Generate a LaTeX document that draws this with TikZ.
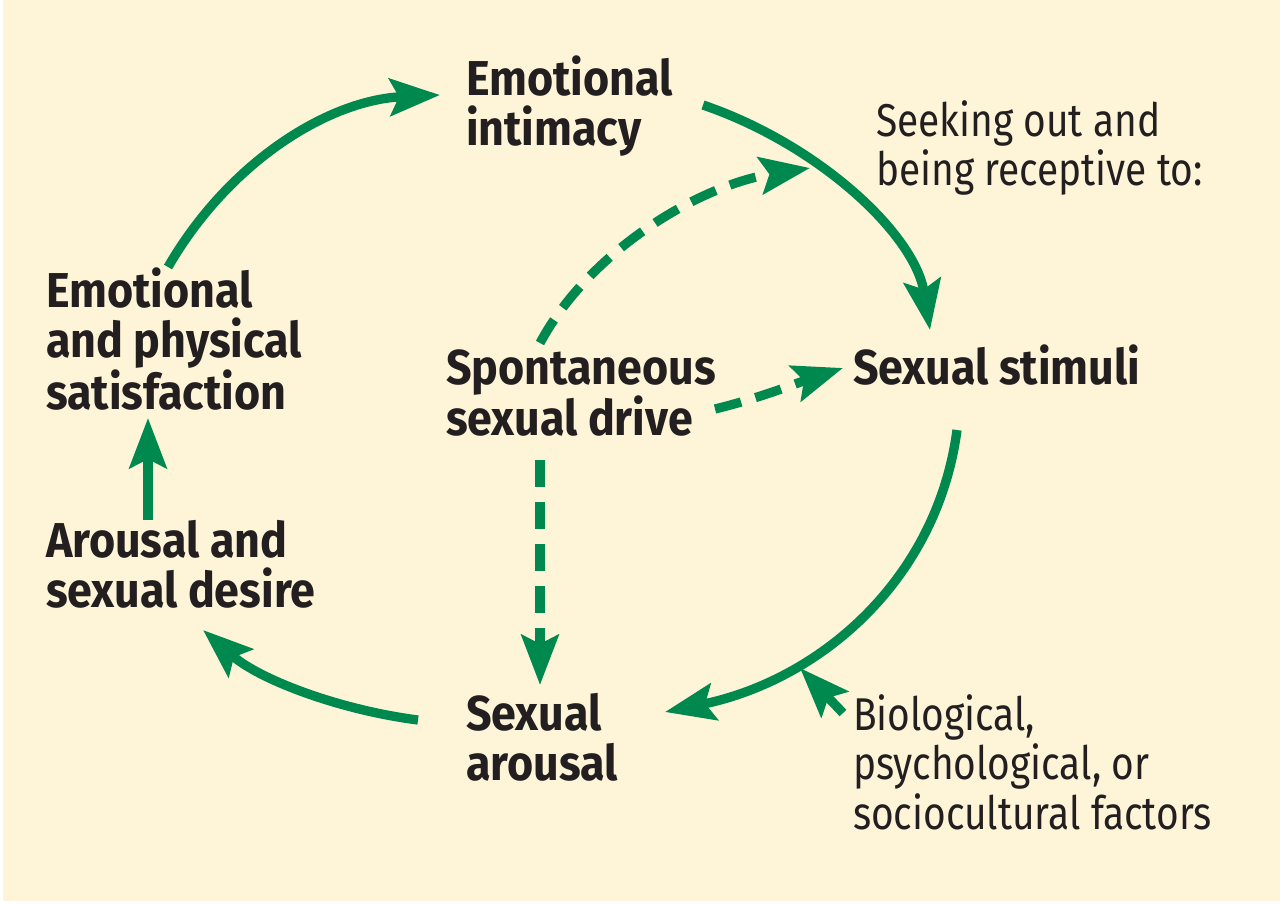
\documentclass[tikz,border=0pt]{standalone}
\usepackage{fontspec}
\usetikzlibrary{arrows.meta}
\newfontfamily\boldf{Fira Sans}[FakeStretch=0.915]
\newfontfamily\regf{Fira Sans}[FakeStretch=0.845]
\definecolor{bgcream}{RGB}{254,245,216}
\definecolor{arrgreen}{RGB}{0,137,78}
\definecolor{txtdark}{RGB}{35,31,32}
\newcommand\mylines[1]{\vtop{\halign{##\hfil\cr#1\crcr}}}
\tikzset{
  lbl/.style={anchor=base west, inner sep=0pt, outer sep=0pt, text=txtdark,
    font=\boldf\bfseries\fontsize{49}{50.5}\selectfont},
  note/.style={anchor=base west, inner sep=0pt, outer sep=0pt, text=txtdark,
    font=\regf\fontsize{46}{49.5}\selectfont},
  flow/.style={draw=arrgreen, line width=9.3pt,
    -{Stealth[length=50pt, width=37pt, inset=9pt, fill=arrgreen]}},
  dflow/.style={flow, dash pattern=on 27pt off 15pt}
}
\begin{document}
\begin{tikzpicture}[x=1pt, y=-1pt]
\useasboundingbox (0,0) rectangle (1280,903);
\fill[white] (0,0) rectangle (1280,903);
\fill[bgcream] (3,0) rectangle (1280,901);

% text nodes
\node[lbl] (intim) at (466,95) {\mylines{Emotional\cr intimacy}};
\node[note] (seek) at (876,136) {\mylines{Seeking out and\cr being receptive to:}};
\node[lbl] (satis) at (46,307) {\mylines{Emotional\cr and physical\cr satisfaction}};
\node[lbl] (spont) at (446,384) {\mylines{Spontaneous\cr sexual drive}};
\node[lbl] (stim) at (853,384) {Sexual stimuli};
\node[lbl] (desire) at (46,557) {\mylines{Arousal and\cr sexual desire}};
\node[lbl] (sarous) at (466,730) {\mylines{Sexual\cr arousal}};
\node[note] (factors) at (853,730) {\mylines{Biological,\cr psychological, or\cr sociocultural factors}};

% connector anchor points
\coordinate (a1s) at (168,267);
\coordinate (a1e) at (440,95);
\coordinate (a2s) at (703,105);
\coordinate (a2e) at (930,330);
\coordinate (a3s) at (957,430);
\coordinate (a3e) at (665,712);
\coordinate (a4s) at (418,720);
\coordinate (a4e) at (203,630);
\coordinate (a5s) at (148,520);
\coordinate (a5e) at (148,418);
\coordinate (a6s) at (843,713);
\coordinate (a6e) at (800,668);
\coordinate (d1s) at (540,343);
\coordinate (d1e) at (810,168);
\coordinate (d2s) at (715,409);
\coordinate (d2e) at (843,368);
\coordinate (d3s) at (540,460);
\coordinate (d3e) at (540,685);

% solid cycle
\draw[flow] (a1s) .. controls (230,160) and (330,100) .. (a1e);
\draw[flow] (a2s) .. controls (820,145) and (915,235) .. (a2e);
\draw[flow] (a3s) .. controls (937,580) and (820,680) .. (a3e);
\draw[flow] (a4s) .. controls (340,710) and (260,680) .. (a4e);
\draw[flow] (a5s) -- (a5e);
\draw[flow] (a6s) -- (a6e);

% dashed
\draw[dflow] (d1s) .. controls (590,250) and (700,185) .. (d1e);
\draw[dflow] (d2s) .. controls (760,398) and (800,382) .. (d2e);
\draw[dflow] (d3s) -- (d3e);
\end{tikzpicture}
\end{document}
